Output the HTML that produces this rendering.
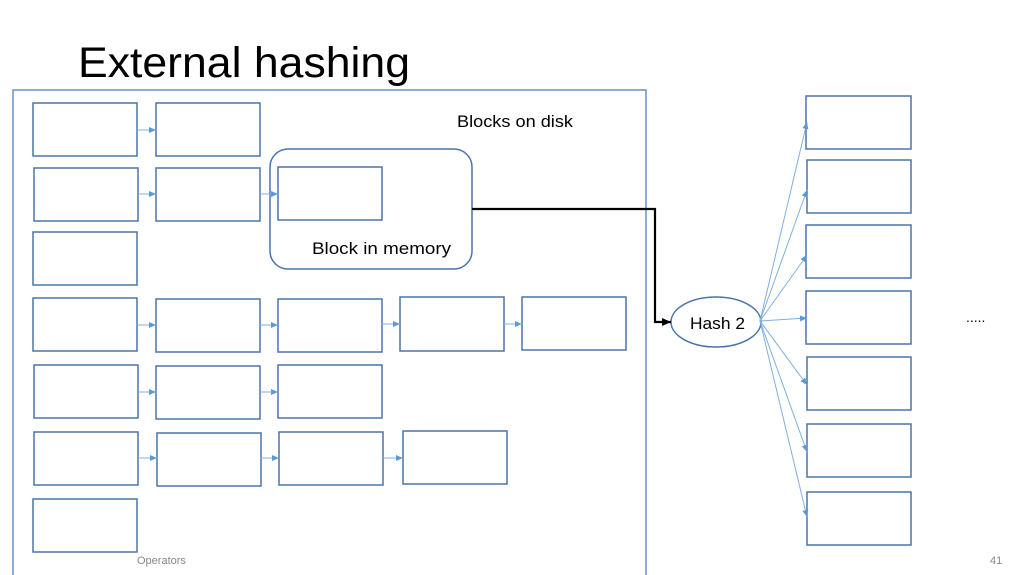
<!DOCTYPE html>
<html><head><style>body{margin:0;background:#fff}svg{display:block}</style></head><body>
<svg width="1023" height="575" viewBox="0 0 1023 575" xmlns="http://www.w3.org/2000/svg" font-family="Liberation Sans, sans-serif">
<defs>
<marker id="a" markerWidth="8" markerHeight="8" refX="7" refY="4" orient="auto" markerUnits="userSpaceOnUse"><path d="M0,1 L7,4 L0,7z" fill="#5b9bd5"/></marker>
<marker id="b" markerWidth="10" markerHeight="10" refX="9" refY="5" orient="auto" markerUnits="userSpaceOnUse"><path d="M0,1 L9,5 L0,9z" fill="#000"/></marker>
</defs>
<text x="78" y="77" font-size="43" fill="#000" textLength="332" lengthAdjust="spacingAndGlyphs">External hashing</text>
<rect x="13" y="90" width="633" height="500" fill="none" stroke="#6a8fbf" stroke-width="1.5"/>
<g fill="#fff" stroke="#4a74ac" stroke-width="1.5">
<rect x="33" y="103" width="104" height="53"/><rect x="156" y="103" width="104" height="53"/>
<rect x="34" y="168" width="104" height="53"/><rect x="156" y="168" width="104" height="53"/>
<rect x="270" y="149" width="202" height="120" rx="18"/>
<rect x="278" y="167" width="104" height="53"/>
<rect x="33" y="232" width="104" height="53"/>
<rect x="33" y="298" width="104" height="53"/><rect x="156" y="299" width="104" height="53"/><rect x="278" y="299" width="104" height="53"/><rect x="400" y="297" width="104" height="54"/><rect x="522" y="297" width="104" height="53"/>
<rect x="34" y="365" width="104" height="53"/><rect x="156" y="366" width="104" height="53"/><rect x="278" y="365" width="104" height="53"/>
<rect x="34" y="432" width="104" height="53"/><rect x="157" y="433" width="104" height="53"/><rect x="279" y="432" width="104" height="53"/><rect x="403" y="431" width="104" height="53"/>
<rect x="33" y="499" width="104" height="53"/>
<rect x="806" y="96" width="105" height="53"/><rect x="807" y="160" width="104" height="53"/><rect x="806" y="225" width="105" height="53"/><rect x="806" y="291" width="105" height="53"/><rect x="807" y="357" width="104" height="53"/><rect x="807" y="424" width="104" height="53"/><rect x="807" y="492" width="104" height="53"/>
<ellipse cx="716" cy="322" rx="45" ry="25"/>
</g>
<g stroke="#7fb0e0" stroke-width="1" marker-end="url(#a)">
<line x1="137" y1="130" x2="156" y2="130"/>
<line x1="138" y1="194" x2="156" y2="194"/>
<line x1="260" y1="194" x2="278" y2="194"/>
<line x1="137" y1="325" x2="156" y2="325"/>
<line x1="260" y1="325" x2="278" y2="325"/>
<line x1="382" y1="324" x2="400" y2="324"/>
<line x1="504" y1="324" x2="522" y2="324"/>
<line x1="138" y1="392" x2="156" y2="392"/>
<line x1="260" y1="392" x2="278" y2="392"/>
<line x1="138" y1="458" x2="157" y2="458"/>
<line x1="261" y1="458" x2="279" y2="458"/>
<line x1="383" y1="458" x2="403" y2="458"/>
<line x1="760" y1="321" x2="807" y2="122"/>
<line x1="760" y1="321" x2="807" y2="190"/>
<line x1="760" y1="321" x2="807" y2="255"/>
<line x1="760" y1="321" x2="807" y2="318"/>
<line x1="760" y1="321" x2="807" y2="385"/>
<line x1="760" y1="321" x2="807" y2="452"/>
<line x1="760" y1="321" x2="807" y2="517"/>
</g>
<polyline points="472,209 655,209 655,322 671,322" fill="none" stroke="#000" stroke-width="2.2" marker-end="url(#b)"/>
<text x="457" y="127" font-size="17" fill="#000" textLength="116" lengthAdjust="spacingAndGlyphs">Blocks on disk</text>
<text x="312" y="254" font-size="17" fill="#000" textLength="139" lengthAdjust="spacingAndGlyphs">Block in memory</text>
<text x="690" y="329" font-size="17" fill="#000" textLength="55" lengthAdjust="spacingAndGlyphs">Hash 2</text>
<text x="966" y="322" font-size="14" fill="#000">.....</text>
<text x="137" y="564" font-size="11" fill="#888">Operators</text>
<text x="990" y="564" font-size="11" fill="#888">41</text>
</svg>
</body></html>
